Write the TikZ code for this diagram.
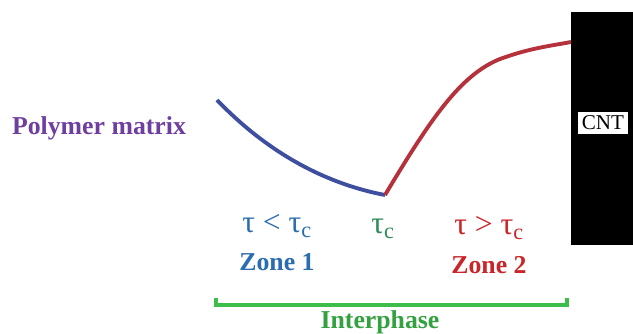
\documentclass[tikz,border=0pt]{standalone}
\usepackage{fontspec}
\setmainfont{Liberation Serif}
\usetikzlibrary{positioning}
\definecolor{polyc}{HTML}{6F3FA0}
\definecolor{lowc}{HTML}{3F4FA0}
\definecolor{highc}{HTML}{B5323C}
\definecolor{zoneone}{HTML}{2A6DB0}
\definecolor{critc}{HTML}{2E8B5A}
\definecolor{zonetwo}{HTML}{C8262A}
\definecolor{interc}{HTML}{3DBE4B}
\tikzset{
  every node/.style={font=\fontsize{21}{24}\selectfont},
  curve/.style={line width=3.3pt},
  bracket/.style={draw=interc,line width=3pt},
  taulabel/.style={inner sep=1pt,font=\fontsize{27}{30}\selectfont},
  zonelabel/.style={inner sep=1pt,font=\fontsize{22}{25}\selectfont\bfseries}}
\begin{document}
\begin{tikzpicture}[x=0.03cm,y=-0.03cm]
\useasboundingbox (0,0) rectangle (633,334);
% carbon nanotube wall
\fill[black] (571,12) rectangle (633,245);
\node[fill=white,inner sep=3pt,font=\fontsize{18}{20}\selectfont] (cnt) at (603,123) {CNT};
\node[zonelabel,text=polyc] (poly) at (99,128) {Polymer matrix};
% profile of the interphase
\coordinate (bstart) at (217,100);
\coordinate (tmin) at (385,195);
\coordinate (rmid) at (500,59);
\coordinate (rend) at (571,42);
\draw[curve,lowc] (bstart) .. controls (265,150) and (322,183) .. (tmin);
\draw[curve,highc] (tmin) .. controls (430,120) and (460,75) .. (rmid)
  .. controls (530,48) and (550,46) .. (rend);
% zones
\node[taulabel,text=zoneone] (low) at (277,226) {τ < τ\textsubscript{c}};
\node[zonelabel,text=zoneone] (z1) at (277,262) {Zone 1};
\node[taulabel,text=critc] (crit) at (383,229) {τ\textsubscript{c}};
\node[taulabel,text=zonetwo] (high) at (489,228) {τ > τ\textsubscript{c}};
\node[zonelabel,text=zonetwo] (z2) at (489,265) {Zone 2};
% interphase bracket
\coordinate (brl) at (216,305);
\coordinate (brr) at (567,305);
\draw[bracket] ([yshift=0.2cm]brl) -- (brl) -- (brr) -- ([yshift=0.2cm]brr);
\node[zonelabel,text=interc!85!black] (inter) at (380,322) {Interphase};
\end{tikzpicture}
\end{document}
